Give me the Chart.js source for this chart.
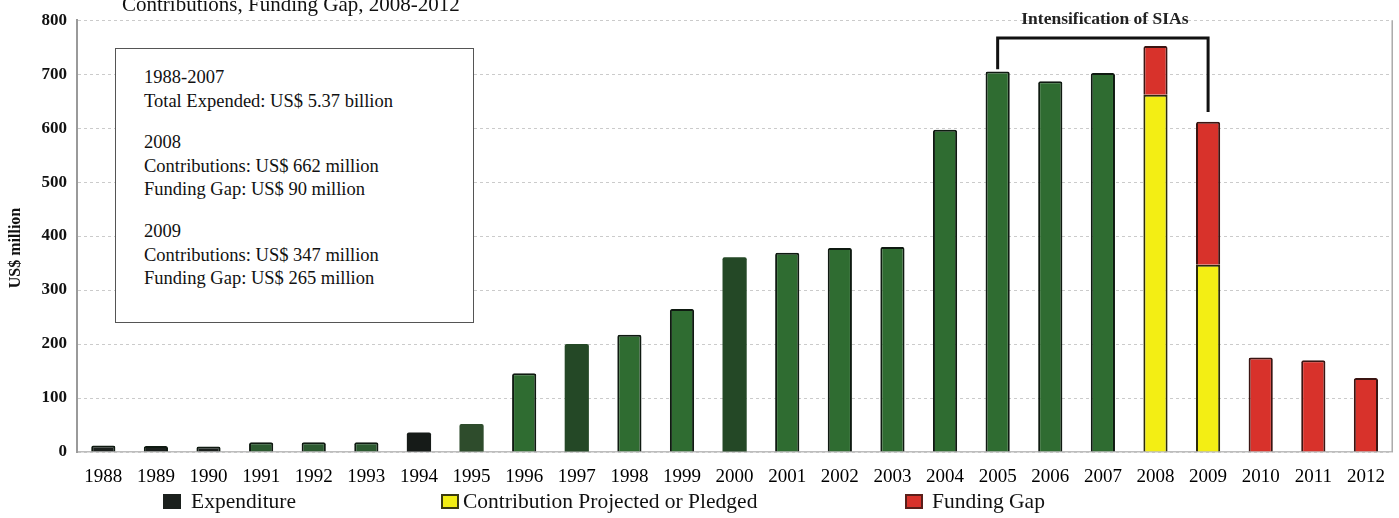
<!DOCTYPE html>
<html>
<head>
<meta charset="utf-8">
<script src="https://cdn.jsdelivr.net/npm/chart.js@4.4.1/dist/chart.umd.min.js"></script>
<style>
  html, body { margin: 0; padding: 0; background: #fff; overflow: hidden; }
  #wrap { position: relative; width: 1399px; height: 518px; font-family: "Liberation Serif", "DejaVu Serif", serif; color: #111; }
  #c { position: absolute; left: 0; top: 0; }
  #note { position: absolute; left: 115px; top: 48px; width: 357px; height: 273px; border: 1.5px solid #555; background: #fff; box-sizing: content-box; }
  #note .p { position: absolute; left: 28px; font-size: 18.5px; line-height: 23.5px; white-space: nowrap; color: #111; }
  .leg { position: absolute; top: 489px; font-size: 21.5px; line-height: 25px; white-space: nowrap; color: #111; }
  .sw { position: absolute; top: 494px; width: 18px; height: 15px; box-sizing: border-box; }
</style>
</head>
<body>
<div id="wrap">
  <canvas id="c" width="1399" height="518"></canvas>
  <div id="note"></div>
  <div id="legend"></div>
</div>
<script>
// ---- data ----
const years = ['1988','1989','1990','1991','1992','1993','1994','1995','1996','1997','1998','1999','2000','2001','2002','2003','2004','2005','2006','2007','2008','2009','2010','2011','2012'];
const expenditure   = [12, 11, 10, 18, 18, 18, 36, 52, 146, 200, 217, 265, 361, 369, 378, 380, 597, 705, 687, 702, null, null, null, null, null];
const contributions = [null, null, null, null, null, null, null, null, null, null, null, null, null, null, null, null, null, null, null, null, 662, 347, null, null, null];
const fundingGap    = [null, null, null, null, null, null, null, null, null, null, null, null, null, null, null, null, null, null, null, null, 90, 265, 175, 170, 137];
const yTicks = [0, 100, 200, 300, 400, 500, 600, 700, 800];
const legendLabels = ['Expenditure', 'Contribution Projected or Pledged', 'Funding Gap'];
const chartTitle = 'Contributions, Funding Gap, 2008-2012';
const bracketLabel = 'Intensification of SIAs';
const bracketFrom = '2005', bracketTo = '2009';
const yTitle = 'US$ million';
const noteParagraphs = [
  ['1988-2007', 'Total Expended: US$ 5.37 billion'],
  ['2008', 'Contributions: US$ 662 million', 'Funding Gap: US$ 90 million'],
  ['2009', 'Contributions: US$ 347 million', 'Funding Gap: US$ 265 million']
];

// ---- styles ----
const BLACK = '#1b201d', GREEN = '#2f6c31', DKGREEN = '#244826', MIDGREEN = '#2c5a30';
const expFill = years.map((y, i) => {
  if (i <= 2) return BLACK;
  if (i <= 5) return MIDGREEN;
  if (i === 6) return '#161b18';
  if (i === 7) return '#2e4c2c';
  if (i === 9 || i === 12) return DKGREEN;
  return GREEN;
});
const expBorderW = years.map((y, i) => (i === 6 || i === 7 || i === 9 || i === 12) ? 0 : 2);
const YELLOW = '#f3ee14', RED = '#d8322b';

const serif = '"Liberation Serif", "DejaVu Serif", serif';

const overlay = {
  id: 'overlay',
  afterDraw(chart) {
    const ctx = chart.ctx, xs = chart.scales.x, ys = chart.scales.y, ca = chart.chartArea;
    ctx.save();
    // right border of plot
    ctx.strokeStyle = '#aaa'; ctx.lineWidth = 1.5;
    ctx.beginPath(); ctx.moveTo(ca.right, ca.top); ctx.lineTo(ca.right, ca.bottom); ctx.stroke();
    // clipped title at top
    ctx.fillStyle = '#111';
    ctx.font = '21px ' + serif;
    ctx.textAlign = 'left'; ctx.textBaseline = 'alphabetic';
    ctx.fillText(chartTitle, 122, 11);
    // y title
    ctx.save();
    ctx.translate(16, 248); ctx.rotate(-Math.PI / 2);
    ctx.font = 'bold 16px ' + serif; ctx.textAlign = 'center'; ctx.textBaseline = 'middle';
    ctx.fillText(yTitle, 0, 0);
    ctx.restore();
    // bracket
    const i0 = years.indexOf(bracketFrom), i1 = years.indexOf(bracketTo);
    const tot = i => (expenditure[i] || 0) + (contributions[i] || 0) + (fundingGap[i] || 0);
    const x0 = xs.getPixelForValue(i0), x1 = xs.getPixelForValue(i1);
    const yTop = ys.getPixelForValue(767);
    ctx.strokeStyle = '#111'; ctx.lineWidth = 3;
    ctx.beginPath();
    ctx.moveTo(x0, ys.getPixelForValue(tot(i0) + 4));
    ctx.lineTo(x0, yTop); ctx.lineTo(x1, yTop);
    ctx.lineTo(x1, ys.getPixelForValue(tot(i1) + 18));
    ctx.stroke();
    ctx.font = 'bold 17.5px ' + serif; ctx.textAlign = 'center'; ctx.textBaseline = 'alphabetic';
    ctx.fillStyle = '#222';
    ctx.fillText(bracketLabel, (x0 + x1) / 2 + 2, 24);
    ctx.restore();
  }
};

new Chart(document.getElementById('c'), {
  type: 'bar',
  data: {
    labels: years,
    datasets: [
      { label: legendLabels[0], data: expenditure, backgroundColor: expFill, borderColor: '#0f1a11', borderWidth: expBorderW, borderRadius: 2 },
      { label: legendLabels[1], data: contributions, backgroundColor: YELLOW, borderColor: '#2b2a0c', borderWidth: 2, borderRadius: 2 },
      { label: legendLabels[2], data: fundingGap, backgroundColor: RED, borderColor: '#3b1512', borderWidth: 2, borderRadius: 2 }
    ]
  },
  options: {
    responsive: false,
    animation: false,
    devicePixelRatio: 1,
    barPercentage: 0.46,
    categoryPercentage: 1.0,
    layout: { padding: { top: 20, right: 4, bottom: 26, left: 0 } },
    plugins: { legend: { display: false }, tooltip: { enabled: false }, title: { display: false } },
    scales: {
      x: {
        stacked: true,
        grid: { display: false, drawTicks: false },
        border: { display: true, color: '#bdbdbd', width: 1.5 },
        ticks: { color: '#000', font: { family: serif, size: 19 }, padding: 14, maxRotation: 0, autoSkip: false },
        afterFit(s) { s.height = 40; }
      },
      y: {
        stacked: true,
        min: 0, max: 800,
        afterBuildTicks(s) { s.ticks = yTicks.map(v => ({ value: v })); },
        grid: { color: '#cbcbcb', lineWidth: 1, drawTicks: false },
        border: { display: true, color: '#9a9a9a', width: 2, dash: [3, 3] },
        ticks: { color: '#111', font: { family: serif, size: 17, weight: 'bold' }, padding: 10 },
        afterFit(s) { s.width = 77; }
      }
    }
  },
  plugins: [overlay]
});

// note box
const note = document.getElementById('note');
const paraTops = [17, 82, 171];
noteParagraphs.forEach((lines, k) => {
  const d = document.createElement('div');
  d.className = 'p';
  d.style.top = paraTops[k] + 'px';
  d.innerHTML = lines.map(t => t.replace(/&/g, '&amp;')).join('<br>');
  note.appendChild(d);
});

// legend
const legend = document.getElementById('legend');
const legItems = [
  { sw: 163, tx: 191, fill: '#1b201d', border: '#1b201d' },
  { sw: 441, tx: 463, fill: YELLOW, border: '#3a3a10' },
  { sw: 905, tx: 932, fill: RED, border: '#5a1f1a' }
];
legItems.forEach((it, k) => {
  const s = document.createElement('div');
  s.className = 'sw';
  s.style.left = it.sw + 'px';
  s.style.background = it.fill;
  s.style.border = '2px solid ' + it.border;
  legend.appendChild(s);
  const t = document.createElement('div');
  t.className = 'leg';
  t.style.left = it.tx + 'px';
  t.textContent = legendLabels[k];
  legend.appendChild(t);
});
</script>
</body>
</html>
